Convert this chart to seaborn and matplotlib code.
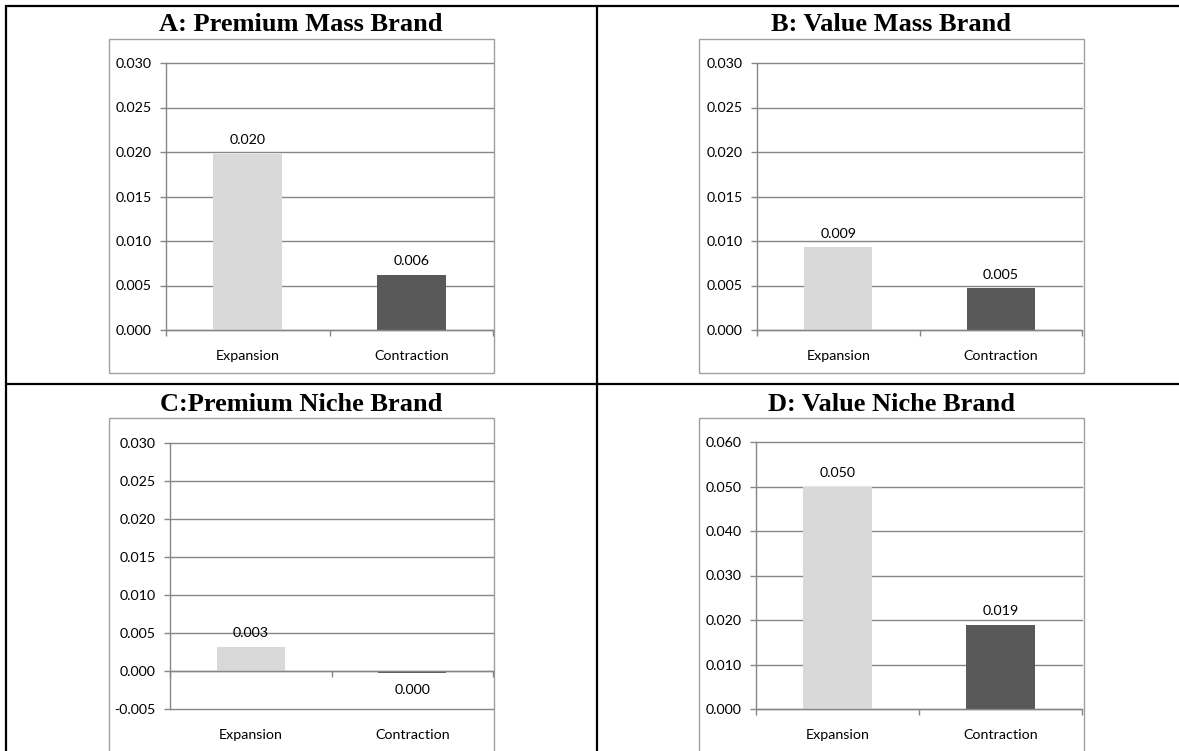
import matplotlib
matplotlib.use("Agg")
import matplotlib.pyplot as plt
from matplotlib.lines import Line2D
from matplotlib.patches import Rectangle
from matplotlib.ticker import MultipleLocator, FormatStrFormatter, FixedLocator
import seaborn as sns
import pandas as pd

# ---- data ----
categories = ["Expansion", "Contraction"]
titles = ["A: Premium Mass Brand", "B: Value Mass Brand",
          "C:Premium Niche Brand", "D: Value Niche Brand"]
expansion = [0.0198, 0.0093, 0.0032, 0.0499]
contraction = [0.0062, 0.0047, -0.0003, 0.0189]

# ---- style ----
sns.set_style("white")
plt.rcParams["font.family"] = ["Lato", "DejaVu Sans"]
plt.rcParams["text.color"] = "black"
plt.rcParams["xtick.color"] = "black"
plt.rcParams["ytick.color"] = "black"

W, H = 1179, 751
fig = plt.figure(figsize=(W / 100, H / 100), dpi=100)
fig.patch.set_facecolor("white")

def fx(x):
    return x / W

def fy(y):
    return 1 - y / H

LIGHT = "#d9d9d9"
DARK = "#595959"
GRID = "#868686"
BOX = "#a0a0a0"
FS = 10.3

# layout per panel: plot area (x0, y0, x1, y1) in px, box, title baseline x/y, ylim, step
layout = [
    dict(plot=(166, 63, 493, 330), box=(109, 39, 494, 373), tx=301, ty=31, ylim=(0, 0.030), step=0.005),
    dict(plot=(757, 63, 1082, 330), box=(699, 39, 1084, 373), tx=891, ty=31, ylim=(0, 0.030), step=0.005),
    dict(plot=(170, 443, 493, 709), box=(109, 418, 494, 760), tx=301, ty=411, ylim=(-0.005, 0.030), step=0.005),
    dict(plot=(756, 442, 1082, 709), box=(699, 418, 1084, 760), tx=891, ty=411, ylim=(0, 0.060), step=0.010),
]

for i, lay in enumerate(layout):
    x0, y0, x1, y1 = lay["plot"]
    bx0, by0, bx1, by1 = lay["box"]
    fig.add_artist(Rectangle((fx(bx0), fy(by1)), (bx1 - bx0) / W, (by1 - by0) / H,
                             transform=fig.transFigure, fill=False, edgecolor=BOX,
                             linewidth=1.0, zorder=0))
    fig.text(fx(lay["tx"]), fy(lay["ty"]), titles[i], ha="center", va="baseline",
             fontsize=19, fontweight="bold", family="Liberation Serif", color="black")

    ax = fig.add_axes([fx(x0), fy(y1), (x1 - x0) / W, (y1 - y0) / H])
    ax.set_facecolor("none")
    df = pd.DataFrame({"category": categories,
                       "value": [expansion[i], contraction[i]]})
    sns.barplot(data=df, x="category", y="value", hue="category",
                order=categories, hue_order=categories,
                palette=[LIGHT, DARK], width=0.42, legend=False, ax=ax,
                saturation=1, edgecolor="none", linewidth=0)
    ax.set_xlim(-0.5, 1.5)
    ax.set_ylim(*lay["ylim"])
    ax.yaxis.set_major_locator(MultipleLocator(lay["step"]))
    ax.yaxis.set_major_formatter(FormatStrFormatter("%.3f"))
    ax.set_axisbelow(True)
    ax.yaxis.grid(True, color=GRID, linewidth=1.0)
    ax.xaxis.grid(False)
    ax.set_xlabel("")
    ax.set_ylabel("")

    for s in ["top", "right"]:
        ax.spines[s].set_visible(False)
    ax.spines["left"].set_color(GRID)
    ax.spines["left"].set_linewidth(1.0)
    ax.spines["bottom"].set_color(GRID)
    ax.spines["bottom"].set_linewidth(1.0)
    ax.spines["bottom"].set_position(("data", 0))

    ax.tick_params(axis="y", which="major", direction="out", length=4.3, width=1,
                   color=GRID, labelsize=FS, labelcolor="black", pad=6, left=True)
    ax.tick_params(axis="x", which="major", length=0, labelbottom=False, bottom=False)
    ax.xaxis.set_minor_locator(FixedLocator([-0.5, 0.5, 1.5]))
    ax.tick_params(axis="x", which="minor", direction="out", length=4.3, width=1,
                   color=GRID, bottom=True)
    for gl in ax.get_ygridlines():
        gl.set_clip_on(False)

    for j, cat in enumerate(categories):
        ax.annotate(cat, xy=(j, 0), xycoords=("data", "axes fraction"),
                    xytext=(0, -26), textcoords="offset pixels",
                    ha="center", va="center", fontsize=FS, color="black")

    for cont in ax.containers:
        vals = [b.get_height() for b in cont]
        labels = [f"{round(v, 3) + 0.0:.3f}" for v in vals]
        pad = 5.5 if vals[0] >= 0 else 8
        ax.bar_label(cont, labels=labels, padding=pad, fontsize=FS, color="black")

# table lines
lw = 1.6
def hline(y, xa, xb):
    fig.add_artist(Line2D([fx(xa), fx(xb)], [fy(y), fy(y)], transform=fig.transFigure,
                          color="black", linewidth=lw, solid_capstyle="butt"))

def vline(x, ya, yb):
    fig.add_artist(Line2D([fx(x), fx(x)], [fy(ya), fy(yb)], transform=fig.transFigure,
                          color="black", linewidth=lw, solid_capstyle="butt"))

hline(6, 5, 1179)
hline(384, 5, 1179)
vline(6, 5, 751)
vline(597, 5, 751)

fig.savefig("out.png", dpi=100, facecolor="white")
